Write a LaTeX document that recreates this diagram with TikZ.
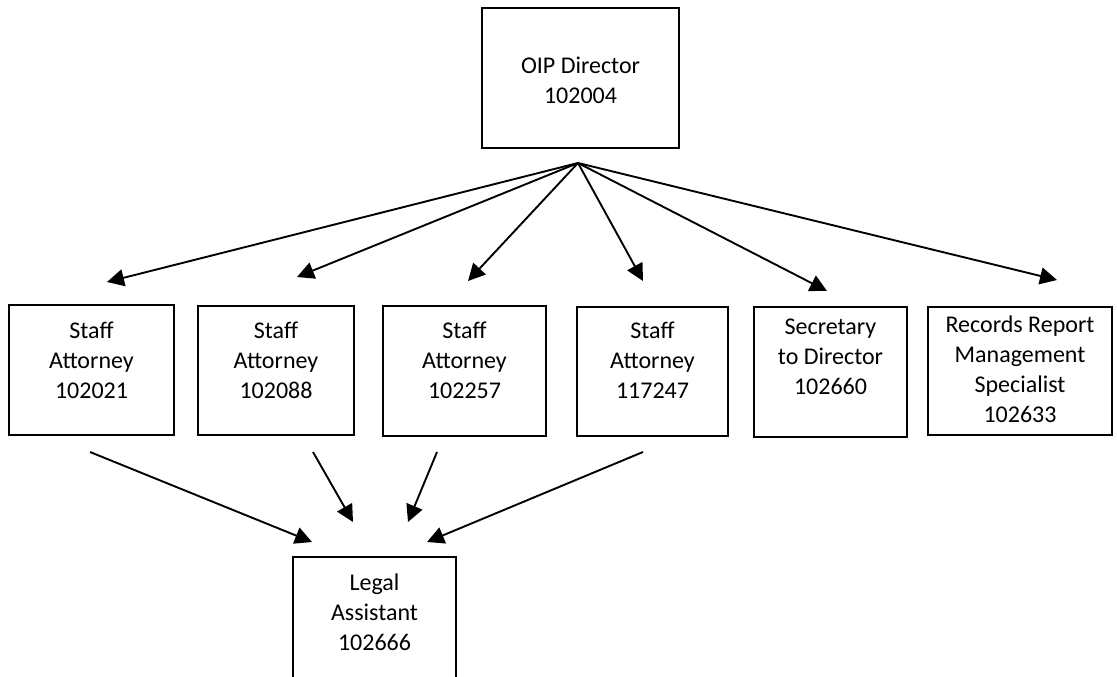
\documentclass[tikz,border=0pt]{standalone}
\usepackage{fontspec}
\setmainfont{Carlito}
\usetikzlibrary{arrows.meta}
\begin{document}
\begin{tikzpicture}[x=1pt,y=-1pt,
  box/.style={draw=black,line width=1.9pt,rectangle,inner sep=0pt},
  txt/.style={align=center,inner sep=0pt,font=\fontsize{24}{30}\selectfont},
  arr/.style={line width=1.9pt,-{Triangle[length=17pt,width=17pt]}}]
\useasboundingbox (0,0) rectangle (1117,677);
\clip (0,0) rectangle (1117,677);
% top box
\node[box,minimum width=197pt,minimum height=140pt] (dir) at (580.5,78) {};
\node[txt] (dirt) at (580.5,80) {OIP Director\\102004};
% row boxes
\node[box,minimum width=165pt,minimum height=130pt] (b1) at (91.5,370) {};
\node[box,minimum width=156pt,minimum height=129pt] (b2) at (276,370.5) {};
\node[box,minimum width=163pt,minimum height=130pt] (b3) at (464.5,371) {};
\node[box,minimum width=151pt,minimum height=129pt] (b4) at (652.5,371.5) {};
\node[box,minimum width=153pt,minimum height=130pt] (b5) at (830.5,372) {};
\node[box,minimum width=184pt,minimum height=128pt] (b6) at (1020,371) {};
\node[txt,anchor=north] (t1) at (91.5,322) {Staff\\Attorney\\102021};
\node[txt,anchor=north] (t2) at (276,322) {Staff\\Attorney\\102088};
\node[txt,anchor=north] (t3) at (464.5,322) {Staff\\Attorney\\102257};
\node[txt,anchor=north] (t4) at (652.5,322) {Staff\\Attorney\\117247};
\node[txt,anchor=north] (t5) at (830.5,319) {Secretary\\to Director\\102660};
\node[txt,anchor=north] (t6) at (1020,316) {Records Report\\Management\\Specialist\\102633};
% bottom box
\node[box,minimum width=163pt,minimum height=125pt] (la) at (374.5,619.5) {};
\node[txt,anchor=north] (lat) at (374.5,574) {Legal\\Assistant\\102666};
% connector coordinates
\coordinate (hub) at (578,163);
\coordinate (e1) at (107,282);
\coordinate (e2) at (297,277);
\coordinate (e3) at (468,281);
\coordinate (e4) at (643,281);
\coordinate (e5) at (827,291);
\coordinate (e6) at (1057,280);
\draw[arr] (hub) -- (e1);
\draw[arr] (hub) -- (e2);
\draw[arr] (hub) -- (e3);
\draw[arr] (hub) -- (e4);
\draw[arr] (hub) -- (e5);
\draw[arr] (hub) -- (e6);
\coordinate (s1) at (90,452);
\coordinate (s2) at (313,452);
\coordinate (s3) at (437,452);
\coordinate (s4) at (643,452);
\coordinate (f1) at (312,542);
\coordinate (f2) at (353,522);
\coordinate (f3) at (408,522);
\coordinate (f4) at (427,542);
\draw[arr] (s1) -- (f1);
\draw[arr] (s2) -- (f2);
\draw[arr] (s3) -- (f3);
\draw[arr] (s4) -- (f4);
\end{tikzpicture}
\end{document}
